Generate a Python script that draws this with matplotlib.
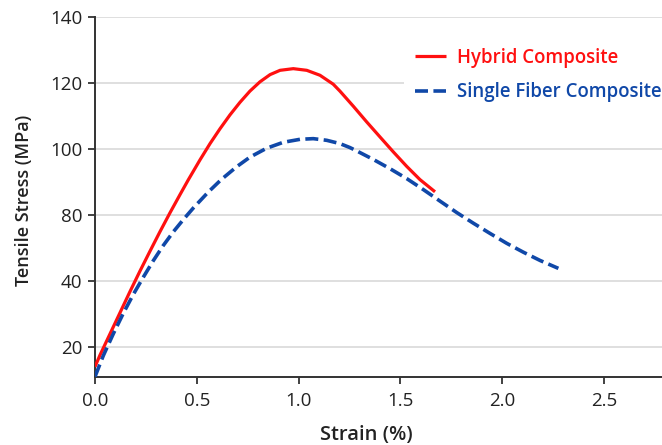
import matplotlib
matplotlib.use("Agg")
import matplotlib.pyplot as plt

# Data
hybrid_strain = [0.000, 0.025, 0.074, 0.123, 0.172, 0.221, 0.270, 0.319, 0.368, 0.418, 0.458, 0.516,
                 0.565, 0.614, 0.663, 0.712, 0.761, 0.810, 0.860, 0.909, 0.974, 1.040, 1.105, 1.170,
                 1.203, 1.236, 1.269, 1.334, 1.400, 1.465, 1.531, 1.596, 1.670]
hybrid_stress = [34.0, 37.6, 44.0, 50.4, 56.8, 63.0, 69.0, 74.9, 80.6, 86.2, 90.6, 96.7,
                 101.6, 106.1, 110.3, 114.1, 117.5, 120.3, 122.5, 123.8, 124.3, 123.8, 122.3, 119.6,
                 117.5, 115.2, 112.9, 108.2, 103.6, 99.1, 94.7, 90.7, 87.0]

single_strain = [0.000, 0.041, 0.090, 0.139, 0.188, 0.237, 0.286, 0.335, 0.385, 0.434, 0.483, 0.556,
                 0.620, 0.696, 0.761, 0.843, 0.925, 1.007, 1.072, 1.138, 1.203, 1.252, 1.285,
                 1.367, 1.449, 1.531, 1.612, 1.694, 1.777, 1.858, 1.940, 2.022, 2.104, 2.186, 2.276]
single_stress = [31.0, 37.4, 44.0, 50.2, 55.9, 61.1, 66.1, 70.7, 74.9, 78.6, 82.1, 86.9,
                 90.7, 94.6, 97.5, 100.2, 102.0, 102.9, 103.1, 102.6, 101.6, 100.4, 99.4,
                 96.8, 94.0, 91.0, 87.7, 84.2, 80.7, 77.5, 74.4, 71.4, 68.7, 66.2, 63.8]

x_ticks = [0.0, 0.5, 1.0, 1.5, 2.0, 2.5]
x_tick_labels = ["0.0", "0.5", "1.0", "1.5", "2.0", "2.5"]
y_ticks = [40, 60, 80, 100, 120, 140]
y_tick_labels = ["20", "40", "80", "100", "120", "140"]

series_names = ["Hybrid Composite", "Single Fiber Composite"]

plt.rcParams['font.family'] = ['Open Sans', 'DejaVu Sans']

W, H = 662, 445
fig = plt.figure(figsize=(W / 100, H / 100), dpi=100)
left_px, right_px, top_px, bottom_px = 95, 662, 16.5, 377
ax_w, ax_h = right_px - left_px, bottom_px - top_px
ax = fig.add_axes([left_px / W, 1 - bottom_px / H, ax_w / W, ax_h / H])

red = "#ff1010"
blue = "#1048a8"
ax.plot(hybrid_strain, hybrid_stress, color=red, lw=2.3, solid_capstyle='butt',
        solid_joinstyle='round', label=series_names[0], zorder=3)
ax.plot(single_strain, single_stress, color=blue, lw=2.6, ls='--', dashes=(3.6, 1.5),
        label=series_names[1], zorder=3)

ax.set_xlim(0, (662 - 95) / 203.6)
ax.set_ylim(30.9, 140.1)
ax.set_xticks(x_ticks)
ax.set_xticklabels(x_tick_labels)
ax.set_yticks(y_ticks)
ax.set_yticklabels(y_tick_labels)

ax.grid(axis='y', color='#dcdcdc', lw=1.3, zorder=0)
ax.set_axisbelow(True)
for s in ['top', 'right']:
    ax.spines[s].set_visible(False)
for s in ['left', 'bottom']:
    ax.spines[s].set_color('#333333')
    ax.spines[s].set_linewidth(1.4)
ax.tick_params(axis='both', colors='#333333', labelcolor='#222222', labelsize=13.5, length=5,
               width=1.3, direction='out')
ax.tick_params(axis='x', pad=6)
ax.tick_params(axis='y', pad=4)

ax.set_xlabel("Strain (%)", fontsize=14.5, fontweight='semibold', color='#222222')
ax.xaxis.set_label_coords((366.5 - left_px) / ax_w, -(435 - bottom_px) / ax_h)
ax.xaxis.label.set_va('center')
ax.set_ylabel("Tensile Stress (MPa)", fontsize=13, fontweight='semibold', color='#222222')
ax.yaxis.set_label_coords(-(left_px - 24) / ax_w, (bottom_px - 200) / ax_h)
ax.yaxis.label.set_va('center')

leg = ax.legend(loc='center left', bbox_to_anchor=(404 / W, 1 - 75.0 / H), bbox_transform=fig.transFigure,
                frameon=True, facecolor='white', edgecolor='none', framealpha=1.0, fancybox=False,
                fontsize=13.4, handlelength=1.65, handletextpad=0.6, labelspacing=0.8, borderpad=0.6,
                borderaxespad=0)
for txt, c in zip(leg.get_texts(), [red, blue]):
    txt.set_color(c)
    txt.set_fontweight('semibold')

fig.savefig("out.png", dpi=100, facecolor='white')
